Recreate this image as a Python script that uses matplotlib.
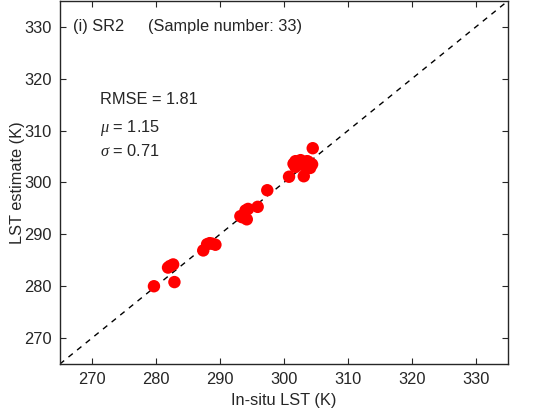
import matplotlib
matplotlib.use("Agg")
import matplotlib.pyplot as plt
import numpy as np

plt.rcParams['font.family'] = ['Liberation Sans', 'DejaVu Sans']
plt.rcParams['mathtext.fontset'] = 'custom'
plt.rcParams['mathtext.it'] = 'Liberation Serif:italic'
plt.rcParams['mathtext.rm'] = 'Liberation Sans'

insitu = [279.7, 281.9, 282.7, 282.9, 287.4, 288.4, 289.3, 288.0,
          293.2, 294.2, 294.4, 295.9, 297.4, 293.5,
          300.8, 303.1, 304.5, 301.8, 302.6, 303.6, 304.4, 301.8, 303.1, 304.1,
          282.2, 288.8, 302.2, 303.3, 302.0, 304.0, 301.5, 294.0, 303.8]
estimate = [280.0, 283.6, 284.2, 280.8, 286.9, 288.3, 288.0, 288.1,
            293.5, 292.9, 294.9, 295.3, 298.5, 293.3,
            301.1, 301.2, 306.6, 304.1, 304.3, 304.1, 303.5, 303.0, 303.3, 302.8,
            283.9, 288.2, 303.8, 303.9, 303.5, 303.2, 303.6, 294.6, 304.0]

fig = plt.figure(figsize=(5.39, 4.18), dpi=100)
ax = fig.add_axes([0.111, 0.129, 0.8315, 0.869])
lims = [265, 335]
ax.plot(lims, lims, '--', color='black', lw=1.0, dashes=(4, 4), zorder=1)
ax.scatter(insitu, estimate, s=80, color='#ff0000', edgecolors='none', zorder=2)
ax.set_xlim(lims)
ax.set_ylim(lims)
ticks = [270, 280, 290, 300, 310, 320, 330]
ax.set_xticks(ticks)
ax.set_yticks(ticks)
fs = 11.8
ax.tick_params(direction='in', top=True, right=True, length=4, width=0.8,
               labelsize=fs, colors='#262626', pad=6)
for s in ax.spines.values():
    s.set_linewidth(1.0)
    s.set_color('#262626')
ax.set_xlabel('In-situ LST (K)', fontsize=fs, color='#262626', labelpad=4)
ax.set_ylabel('LST estimate (K)', fontsize=fs, color='#262626', labelpad=-1)

ax.text(267.0, 330.0, '(i) SR2', fontsize=fs, va='center', color='#262626')
ax.text(278.8, 330.0, '(Sample number: 33)', fontsize=fs, va='center', color='#262626')
ax.text(271.2, 315.9, 'RMSE = 1.81', fontsize=fs, va='center', color='#262626')
ax.text(271.2, 310.5, r'$\mu$ = 1.15', fontsize=fs, va='center', color='#262626')
ax.text(271.2, 306.0, r'$\sigma$ = 0.71', fontsize=fs, va='center', color='#262626')

fig.savefig('out.png', dpi=100)
